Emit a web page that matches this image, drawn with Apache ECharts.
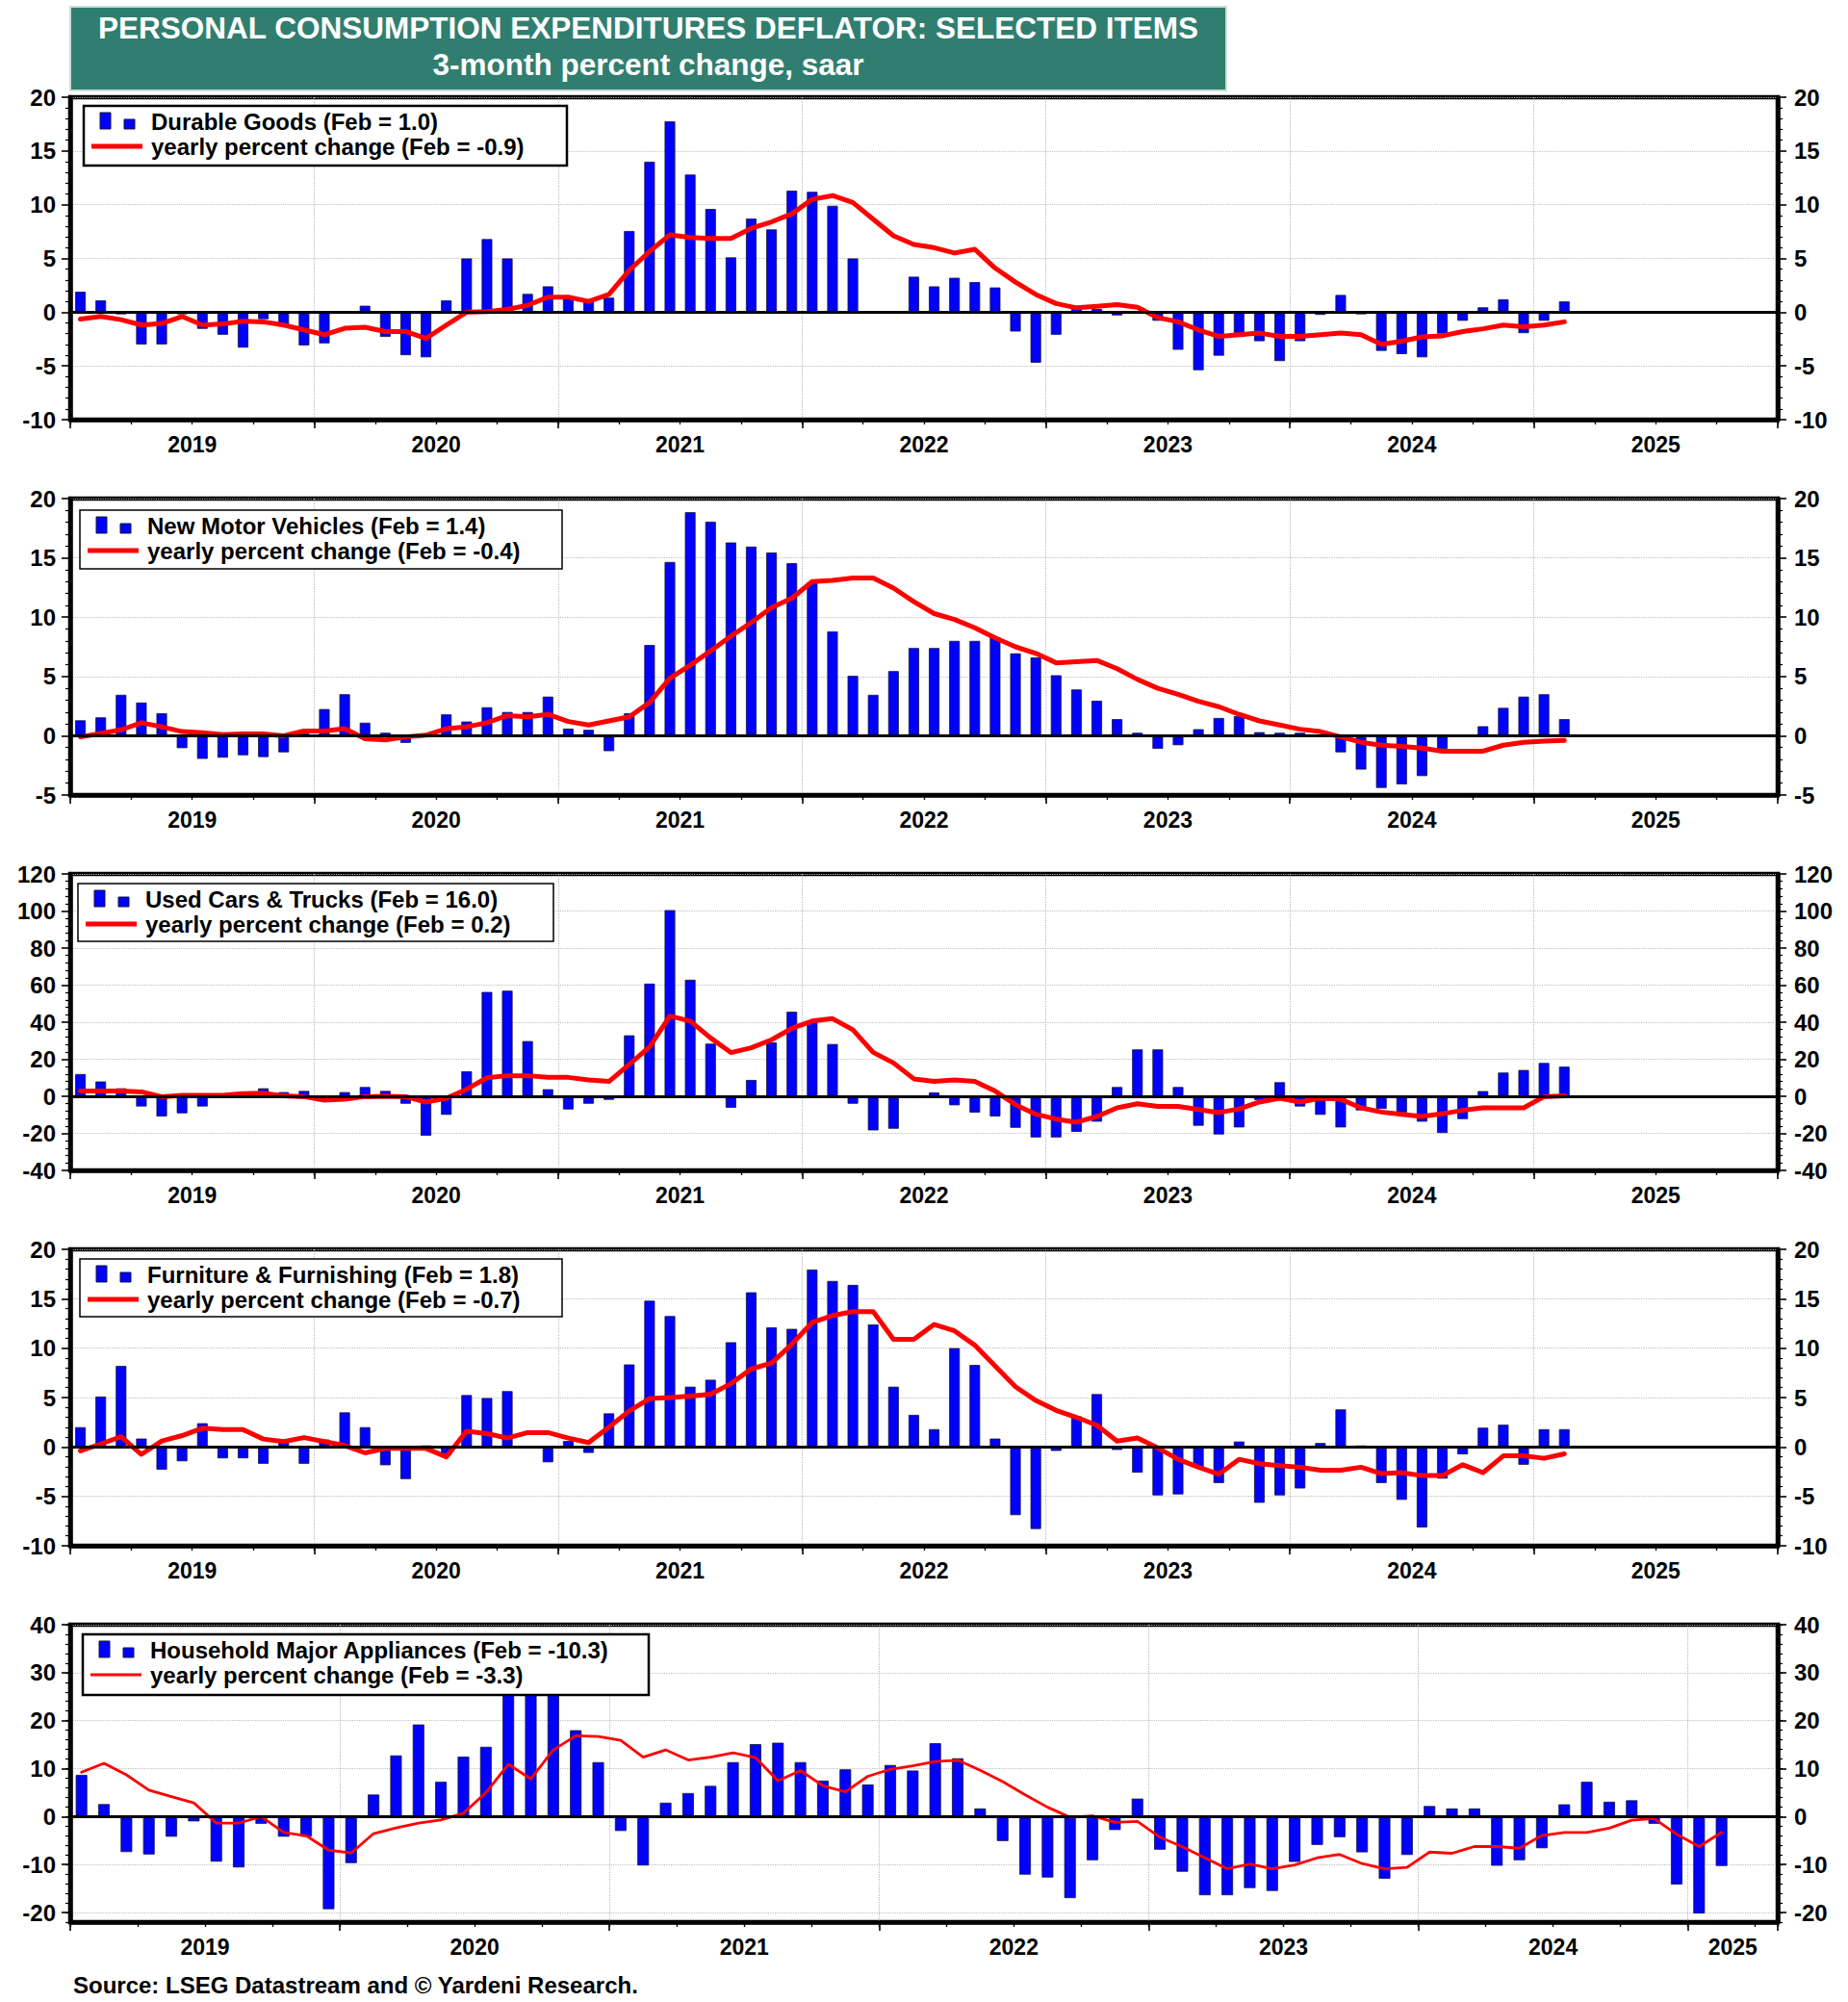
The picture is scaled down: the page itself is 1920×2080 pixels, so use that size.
<!DOCTYPE html>
<html><head><meta charset="utf-8">
<script src="https://cdn.jsdelivr.net/npm/echarts@6/dist/echarts.min.js"></script>
<style>html,body{margin:0;padding:0;background:#fff}#c{width:1920px;height:2080px}</style>
</head><body><div id="c"></div>
<script>
// ---------- DATA (monthly, Jan 2019 .. Feb 2025) ----------
const yearLabels = ['2019','2020','2021','2022','2023','2024','2025'];
const yearLabelPosA = [6,18,30,42,54,66,78];   // months after Jan 2019 where the year label sits
const yearLabelPosB = [6,18,30,42,54,66,74];
const applTickVals = [-20,-10,0,10,20,30,40];

const durableBars = [1.9,1.1,-0.2,-3.0,-3.0,-0.2,-1.55,-2.1,-3.3,-0.65,
 -1.2,-3.1,-2.9,0.1,0.6,-2.3,-4.0,-4.2,1.1,5.0,
 6.8,5.0,1.7,2.4,1.25,1.0,1.35,7.55,14.0,17.75,
 12.8,9.6,5.1,8.7,7.7,11.3,11.2,9.9,5.0,0.1,
 0.1,3.3,2.4,3.2,2.8,2.3,-1.8,-4.7,-2.1,0.3,
 0.3,-0.3,0.1,-0.8,-3.5,-5.4,-4.05,-2.3,-2.7,-4.55,
 -2.7,-0.25,1.6,-0.2,-3.6,-3.9,-4.2,-2.0,-0.8,0.45,
 1.2,-1.95,-0.8,1.0];
const durableYoY = [-0.65,-0.4,-0.7,-1.2,-1.05,-0.4,-1.2,-1.1,-0.85,-0.9,
 -1.2,-1.65,-2.1,-1.5,-1.4,-1.8,-1.8,-2.45,-1.2,0.0,
 0.05,0.25,0.65,1.4,1.4,1.0,1.65,3.9,5.65,7.2,
 6.95,6.85,6.85,7.8,8.4,9.15,10.5,10.85,10.2,8.65,
 7.1,6.3,6.0,5.5,5.85,4.1,2.8,1.65,0.8,0.4,
 0.55,0.7,0.45,-0.5,-0.9,-1.65,-2.25,-2.1,-1.95,-2.25,
 -2.25,-2.1,-1.95,-2.1,-3.0,-2.7,-2.3,-2.2,-1.8,-1.55,
 -1.2,-1.35,-1.2,-0.9];

const newVehBars = [1.3,1.55,3.45,2.8,1.9,-1.05,-1.95,-1.85,-1.65,-1.8,
 -1.4,0.2,2.25,3.5,1.1,0.25,-0.6,0.1,1.8,1.2,
 2.4,2.0,2.0,3.3,0.6,0.5,-1.3,1.9,7.65,14.65,
 18.85,18.05,16.3,15.95,15.45,14.55,12.9,8.8,5.05,3.45,
 5.45,7.4,7.4,8.0,8.0,8.3,6.95,6.6,5.1,3.9,
 2.95,1.4,0.25,-1.1,-0.8,0.55,1.5,1.65,0.3,0.25,
 0.25,0.05,-1.4,-2.85,-4.4,-4.1,-3.4,-1.1,0.0,0.8,
 2.35,3.3,3.5,1.4];
const newVehYoY = [-0.1,0.2,0.5,1.1,0.75,0.35,0.25,0.1,0.15,0.15,
 0.0,0.4,0.4,0.6,-0.25,-0.35,-0.1,0.05,0.6,0.75,
 1.1,1.7,1.6,1.8,1.2,0.9,1.25,1.6,2.8,4.85,
 5.95,7.15,8.4,9.55,10.8,11.6,13.0,13.1,13.3,13.3,
 12.45,11.3,10.3,9.8,9.1,8.25,7.5,6.95,6.15,6.25,
 6.35,5.65,4.75,4.0,3.5,2.9,2.45,1.8,1.25,0.9,
 0.55,0.35,-0.1,-0.55,-0.8,-0.9,-1.05,-1.3,-1.3,-1.3,
 -0.8,-0.55,-0.45,-0.4];

const usedBars = [12.0,8.0,4.3,-5.5,-10.9,-9.2,-5.5,0.5,1.0,4.3,
 2.25,2.9,-1.0,2.25,5.0,2.9,-4.0,-21.3,-10.0,13.5,
 56.3,57.0,29.8,3.8,-7.1,-4.0,-1.9,32.9,60.8,100.5,
 62.9,28.4,-6.2,8.8,29.1,45.6,40.5,28.2,-4.0,-18.4,
 -17.5,-1.0,2.1,-4.85,-8.8,-10.9,-17.0,-22.2,-22.2,-19.2,
 -13.7,5.0,25.3,25.3,5.0,-15.9,-20.6,-16.8,-2.0,7.6,
 -5.5,-10.0,-16.8,-7.6,-6.8,-8.8,-13.7,-19.8,-12.3,2.8,
 12.8,14.2,18.0,16.0];
const usedYoY = [2.8,2.8,2.8,2.4,-0.2,0.5,0.5,0.5,1.4,1.7,
 0.2,-0.2,-2.1,-1.6,-0.2,0.0,-0.2,-3.1,-1.0,3.8,
 10.0,11.1,11.1,10.2,10.2,8.8,8.0,17.2,26.7,43.3,
 40.6,31.5,23.6,26.2,30.5,36.7,40.6,41.9,35.9,23.7,
 18.0,9.4,8.0,8.8,8.0,2.8,-4.5,-9.7,-12.3,-14.0,
 -10.9,-6.2,-4.0,-5.5,-5.5,-7.1,-8.8,-6.8,-3.1,-1.0,
 -3.1,-1.0,-1.6,-6.2,-8.5,-9.7,-10.9,-9.4,-7.6,-6.2,
 -6.2,-6.2,-0.2,0.2];

const furnBars = [2.0,5.1,8.2,0.85,-2.3,-1.45,2.4,-1.15,-1.15,-1.7,
 0.5,-1.7,0.75,3.5,2.0,-1.85,-3.25,0.15,-0.85,5.25,
 4.95,5.65,0.1,-1.55,0.6,-0.6,3.4,8.35,14.8,13.25,
 6.1,6.8,10.6,15.65,12.1,11.95,17.95,16.8,16.4,12.4,
 6.1,3.25,1.8,10.0,8.3,0.85,-6.9,-8.3,-0.4,3.1,
 5.35,-0.3,-2.6,-4.9,-4.8,-2.05,-3.65,0.55,-5.65,-4.9,
 -4.2,0.4,3.8,0.15,-3.65,-5.35,-8.15,-3.2,-0.75,1.95,
 2.25,-1.8,1.8,1.8];
const furnYoY = [-0.4,0.3,1.05,-0.75,0.6,1.15,1.9,1.75,1.75,0.8,
 0.55,0.95,0.55,0.15,-0.6,-0.15,-0.15,-0.15,-1.0,1.6,
 1.35,0.9,1.45,1.45,0.9,0.45,2.0,3.65,4.9,5.0,
 5.15,5.35,6.4,7.9,8.5,10.4,12.6,13.3,13.7,13.7,
 10.9,10.9,12.4,11.75,10.3,8.2,6.1,4.7,3.7,3.0,
 2.2,0.6,0.9,-0.1,-1.25,-2.05,-2.75,-1.25,-1.7,-1.9,
 -2.05,-2.35,-2.35,-2.05,-2.7,-2.6,-2.9,-2.9,-1.8,-2.6,
 -0.9,-0.9,-1.15,-0.7];

const applBars = [8.7,2.6,-7.4,-7.9,-4.2,-1.0,-9.4,-10.6,-1.5,-4.2,
 -4.2,-19.3,-9.7,4.6,12.75,19.2,7.25,12.5,14.55,29.0,
 32.0,28.0,18.0,11.35,-3.0,-10.2,2.9,4.9,6.4,11.35,
 15.1,15.4,11.35,7.5,9.85,6.7,10.75,9.6,15.3,12.15,
 1.7,-5.1,-12.1,-12.7,-17.0,-9.1,-2.8,3.75,-6.9,-11.5,
 -16.4,-16.4,-14.9,-15.5,-9.45,-5.9,-4.3,-7.45,-12.95,-8.0,
 2.2,1.7,1.7,-10.25,-9.1,-6.6,2.55,7.25,3.1,3.4,
 -1.5,-14.15,-20.2,-10.3];
const applYoY = [9.25,11.1,8.7,5.5,4.15,2.85,-1.35,-1.35,0.0,-3.3,
 -4.0,-7.0,-7.6,-3.55,-2.35,-1.35,-0.7,0.7,5.0,10.9,
 7.85,13.9,16.85,16.7,15.9,12.4,13.9,11.8,12.4,13.3,
 12.3,7.45,9.6,6.4,5.15,8.4,9.85,10.6,11.5,11.75,
 9.65,7.3,4.55,1.95,-0.15,0.15,-1.2,-1.0,-4.3,-6.3,
 -8.6,-10.9,-9.9,-10.9,-10.1,-8.6,-7.9,-9.8,-10.9,-10.6,
 -7.4,-7.65,-6.25,-6.25,-6.6,-3.95,-3.3,-3.3,-2.4,-0.75,
 -0.4,-3.7,-6.25,-3.3];

// ---------- LAYOUT ----------
const FONT = '"Liberation Sans", Arial, Helvetica, sans-serif';
const panels = [
  {name:'Durable Goods (Feb = 1.0)', yoyName:'yearly percent change (Feb = -0.9)', bars:durableBars, yoy:durableYoY,
   top:101, bottom:436, ymin:-10, ymax:20, yint:5, xmax:84, labelPos:yearLabelPosA, barW:11, lineW:5, box:[87,110,502,62], boxLW:2.5},
  {name:'New Motor Vehicles (Feb = 1.4)', yoyName:'yearly percent change (Feb = -0.4)', bars:newVehBars, yoy:newVehYoY,
   top:518, bottom:826, ymin:-5, ymax:20, yint:5, xmax:84, labelPos:yearLabelPosA, barW:11, lineW:5, box:[83,530,501,61], boxLW:1.5},
  {name:'Used Cars & Trucks (Feb = 16.0)', yoyName:'yearly percent change (Feb = 0.2)', bars:usedBars, yoy:usedYoY,
   top:908, bottom:1216, ymin:-40, ymax:120, yint:20, xmax:84, labelPos:yearLabelPosA, barW:11, lineW:5, box:[81,918,494,60], boxLW:1.5},
  {name:'Furniture & Furnishing (Feb = 1.8)', yoyName:'yearly percent change (Feb = -0.7)', bars:furnBars, yoy:furnYoY,
   top:1298, bottom:1606, ymin:-10, ymax:20, yint:5, xmax:84, labelPos:yearLabelPosA, barW:11, lineW:5, box:[83,1308,501,60], boxLW:1.5},
  {name:'Household Major Appliances (Feb = -10.3)', yoyName:'yearly percent change (Feb = -3.3)', bars:applBars, yoy:applYoY,
   top:1688, bottom:1997, ymin:-22, ymax:40, custom:applTickVals, xmax:76, labelPos:yearLabelPosB, barW:12, lineW:2.8, box:[86,1698,588,63], boxLW:2.5}
];

const GL = 73, GW = 1774;
const grids = [], xAxes = [], yAxes = [], series = [], graphics = [];
const labelStyle = {color:'#000', fontWeight:'bold', fontFamily:FONT};
const gridLine = {show:true, lineStyle:{color:'#bdbdbd', type:'dotted', width:1.2}};

panels.forEach((p, k) => {
  grids.push({left:GL, width:GW, top:p.top, height:p.bottom - p.top, show:true,
    borderColor:'#000', borderWidth:4.5, backgroundColor:'rgba(0,0,0,0)'});
  const xb = xAxes.length;
  xAxes.push({gridIndex:k, type:'value', position:'bottom', min:0, max:p.xmax, interval:12,
    axisLine:{show:true, onZero:false, lineStyle:{color:'#000', width:4.5}},
    axisTick:{show:true, length:9, lineStyle:{color:'#000', width:1.6}},
    axisLabel:{show:false}, splitLine:gridLine});
  xAxes.push({gridIndex:k, type:'value', position:'bottom', min:0, max:p.xmax, interval:3,
    axisLine:{show:false, onZero:false}, axisTick:{show:true, length:5, lineStyle:{color:'#000', width:1.3}},
    axisLabel:{show:false}, splitLine:{show:false}});
  const lp = p.labelPos;
  xAxes.push({gridIndex:k, type:'value', position:'bottom', min:0, max:p.xmax, interval:2,
    axisLine:{show:false, onZero:false}, axisTick:{show:false}, splitLine:{show:false},
    axisLabel:Object.assign({show:true, margin:14, fontSize:23, showMinLabel:true, showMaxLabel:true,
      formatter:(v)=>{const j = lp.indexOf(Math.round(v)); return j >= 0 ? yearLabels[j] : '';}}, labelStyle)});
  const yb = yAxes.length;
  if (!p.custom) {
    ['left','right'].forEach(pos => {
      yAxes.push({gridIndex:k, type:'value', position:pos, min:p.ymin, max:p.ymax, interval:p.yint,
        axisLine:{show:true, onZero:false, lineStyle:{color:'#000', width:4.5}},
        axisTick:{show:true, length:9, lineStyle:{color:'#000', width:1.6}},
        minorTick:{show:true, splitNumber:5, length:5, lineStyle:{color:'#000', width:1.2}},
        axisLabel:Object.assign({margin: pos === 'left' ? 15 : 17, fontSize:24}, labelStyle),
        splitLine: pos === 'left' ? gridLine : {show:false}});
    });
  } else {
    ['left','right'].forEach(pos => {
      yAxes.push({gridIndex:k, type:'value', position:pos, min:p.ymin, max:p.ymax, interval:2,
        axisLine:{show:true, onZero:false, lineStyle:{color:'#000', width:4.5}},
        axisTick:{show:true, length:5, lineStyle:{color:'#000', width:1.2}},
        axisLabel:{show:false}, splitLine:{show:false}});
    });
    ['left','right'].forEach(pos => {
      yAxes.push({gridIndex:k, type:'value', position:pos, min:p.ymin, max:p.ymax,
        axisLine:{show:false, onZero:false},
        axisTick:{show:true, length:9, customValues:p.custom, lineStyle:{color:'#000', width:1.6}},
        axisLabel:Object.assign({margin: pos === 'left' ? 15 : 17, fontSize:24, customValues:p.custom}, labelStyle),
        splitLine: pos === 'left' ? gridLine : {show:false}});
    });
  }
  series.push({type:'bar', name:p.name, xAxisIndex:xb, yAxisIndex:yb, barWidth:p.barW,
    data:p.bars.map((v, i) => [i + 0.5, v]),
    itemStyle:{color:'#0000FF', borderColor:'#14143c', borderWidth:0.8},
    markLine:{silent:true, symbol:'none', label:{show:false}, animation:false,
      lineStyle:{color:'#000', width:3, type:'solid'}, data:[{yAxis:0}]},
    z:2});
  series.push({type:'line', name:p.yoyName, xAxisIndex:xb, yAxisIndex:yb, showSymbol:false, symbol:'none',
    data:p.yoy.map((v, i) => [i + 0.5, v]),
    lineStyle:{color:'#FF0000', width:p.lineW, cap:'round', join:'round'}, z:4});

  // legend box
  const [bx, by, bw, bh] = p.box;
  graphics.push({type:'rect', z:100, shape:{x:bx, y:by, width:bw, height:bh},
    style:{fill:'#fff', stroke:'#000', lineWidth:p.boxLW}});
  graphics.push({type:'rect', z:101, shape:{x:bx + 17, y:by + 7, width:11, height:17},
    style:{fill:'#0000FF', stroke:'#14143c', lineWidth:1}});
  graphics.push({type:'rect', z:101, shape:{x:bx + 42, y:by + 14, width:11, height:10},
    style:{fill:'#0000FF', stroke:'#14143c', lineWidth:1}});
  graphics.push({type:'line', z:101, shape:{x1:bx + 8, y1:by + 42, x2:bx + 61, y2:by + 42},
    style:{stroke:'#FF0000', lineWidth:p.lineW}});
  graphics.push({type:'text', z:101, x:bx + 70, y:by + 16,
    style:{text:p.name, fill:'#000', fontSize:24, fontWeight:'bold', fontFamily:FONT,
      verticalAlign:'middle', textVerticalAlign:'middle', align:'left', textAlign:'left'}});
  graphics.push({type:'text', z:101, x:bx + 70, y:by + 42,
    style:{text:p.yoyName, fill:'#000', fontSize:24, fontWeight:'bold', fontFamily:FONT,
      verticalAlign:'middle', textVerticalAlign:'middle', align:'left', textAlign:'left'}});
});

// title banner
graphics.push({type:'rect', z:100, shape:{x:73, y:7, width:1201, height:87},
  style:{fill:'#307E70', stroke:'#cfdcd6', lineWidth:2}});
graphics.push({type:'text', z:101, x:673.5, y:29,
  style:{text:'PERSONAL CONSUMPTION EXPENDITURES DEFLATOR: SELECTED ITEMS', fill:'#fff', fontSize:31.5, fontWeight:'bold',
    fontFamily:FONT, align:'center', textAlign:'center', verticalAlign:'middle', textVerticalAlign:'middle'}});
graphics.push({type:'text', z:101, x:673.5, y:67,
  style:{text:'3-month percent change, saar', fill:'#fff', fontSize:31.5, fontWeight:'bold',
    fontFamily:FONT, align:'center', textAlign:'center', verticalAlign:'middle', textVerticalAlign:'middle'}});
// source
graphics.push({type:'text', z:101, x:76, y:2062,
  style:{text:'Source: LSEG Datastream and \u00A9 Yardeni Research.', fill:'#000', fontSize:24, fontWeight:'bold',
    fontFamily:FONT, align:'left', textAlign:'left', verticalAlign:'middle', textVerticalAlign:'middle'}});

const chart = echarts.init(document.getElementById('c'), null, {renderer:'svg', width:1920, height:2080});
chart.setOption({
  animation:false,
  backgroundColor:'#fff',
  textStyle:{fontFamily:FONT},
  grid:grids, xAxis:xAxes, yAxis:yAxes, series:series,
  graphic:{elements:graphics}
});
</script></body></html>
